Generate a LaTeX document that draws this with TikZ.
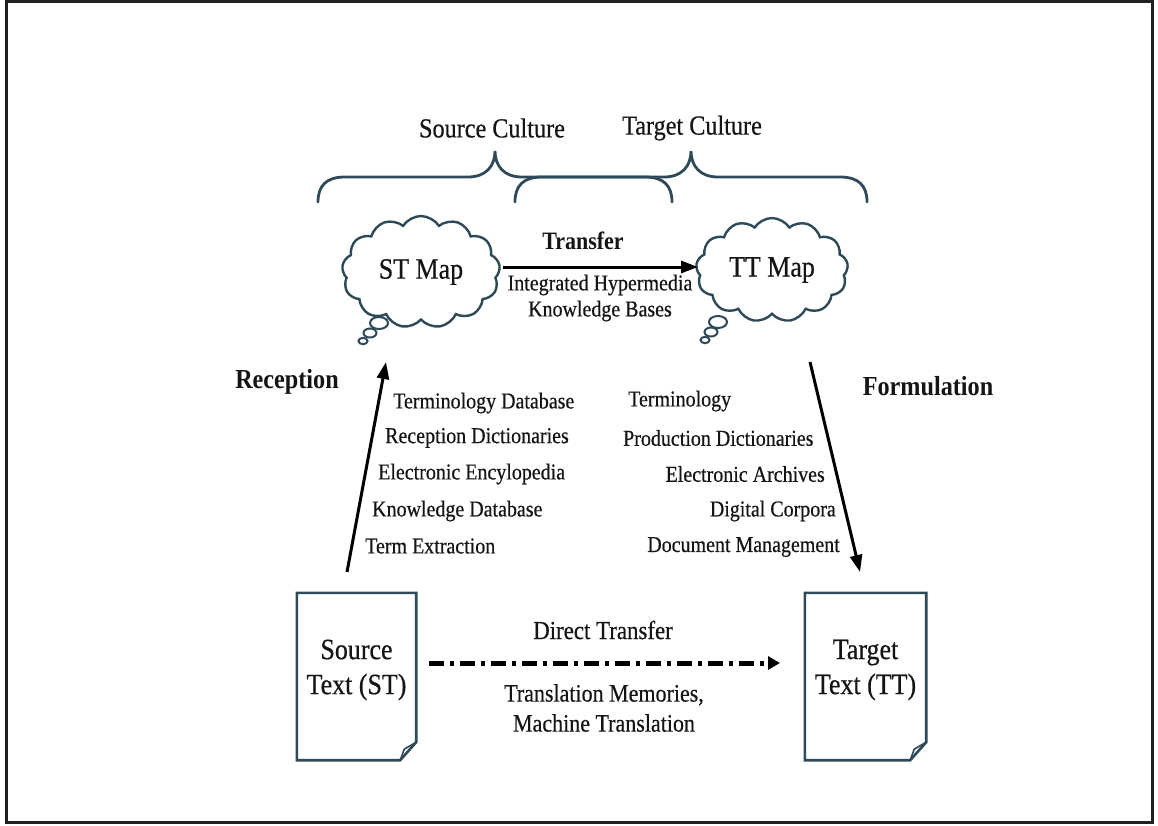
\documentclass[tikz,border=0pt]{standalone}
\usepackage{fontspec}
\setmainfont{Liberation Serif}[FakeStretch=0.88, UprightFeatures={FakeBold=0.5}]
\usetikzlibrary{shapes.symbols,arrows.meta}
\definecolor{ink}{HTML}{2E4A58}
\definecolor{txt}{HTML}{151515}
\begin{document}
\begin{tikzpicture}[x=1pt,y=-1pt,
  lbl/.style={font=\fontsize{22.7}{24}\selectfont, inner sep=0pt, text=txt},
  big/.style={font=\fontsize{27.5}{29}\selectfont, inner sep=0pt, text=txt},
  bold/.style={font=\fontsize{27.5}{29}\selectfont\bfseries, inner sep=0pt, text=txt},
  thought/.style={cloud, cloud puffs=13, cloud puff arc=115, cloud ignores aspect,
    draw=ink, line width=2.4pt, fill=white, text=txt, font=\fontsize{29.5}{31}\selectfont},
  bubble/.style={draw=ink, line width=2pt, fill=white},
  brace/.style={draw=ink, line width=2.8pt, line cap=round},
  doc/.style={draw=ink, line width=2.6pt, line join=miter},
  doctext/.style={align=center, font=\fontsize{29.5}{35}\selectfont, text=txt, inner sep=0pt},
  arr/.style={line width=3pt, -{Triangle[length=17pt,width=12pt]}},
]
\useasboundingbox (0,0) rectangle (1158,825);
\draw[line width=3pt, black!88] (6.5,1.5) rectangle (1152,822.5);

% culture labels and braces
\node[big] (sc) at (492,128) {Source Culture};
\node[big] (tc) at (692,128) {Target Culture};
\draw[brace] (318,202) .. controls (318,186) and (326,177) .. (345,177) -- (468,177)
  .. controls (486,177) and (495,166) .. (495,151)
  .. controls (495,166) and (504,177) .. (522,177) -- (645,177)
  .. controls (664,177) and (672,186) .. (672,202);
\draw[brace] (515,202) .. controls (515,186) and (523,177) .. (542,177) -- (664,177)
  .. controls (682,177) and (691,166) .. (691,151)
  .. controls (691,166) and (700,177) .. (718,177) -- (840,177)
  .. controls (859,177) and (867,186) .. (867,202);

% thought clouds
\draw[bubble] (379,323) ellipse [x radius=9, y radius=6];
\draw[bubble] (370,333) ellipse [x radius=6.5, y radius=4.5];
\draw[bubble] (363,341) ellipse [x radius=4.5, y radius=3.2];
\node[thought, minimum width=158pt, minimum height=112pt] (stmap) at (421,272) {ST Map};
\draw[bubble] (718,322) ellipse [x radius=9, y radius=6];
\draw[bubble] (711,332) ellipse [x radius=6.5, y radius=4.5];
\draw[bubble] (705,340) ellipse [x radius=4.5, y radius=3.2];
\node[thought, minimum width=152pt, minimum height=104pt] (ttmap) at (772,270) {TT Map};

% transfer
\coordinate (trS) at (503,267);
\coordinate (trE) at (698,267);
\draw[arr] (trS) -- (trE);
\node[font=\fontsize{25}{27}\selectfont\bfseries, inner sep=0pt, text=txt] (transfer) at (583,241) {Transfer};
\node[align=center, font=\fontsize{22.7}{26}\selectfont, inner sep=0pt, text=txt] (ihkb) at (600,298) {Integrated Hypermedia\\Knowledge Bases};

% reception side
\node[bold] (reception) at (287,382) {Reception};
\coordinate (recS) at (347,572);
\coordinate (recE) at (386,362);
\draw[arr] (recS) -- (recE);
\node[lbl, anchor=west] (r1) at (393,403) {Terminology Database};
\node[lbl, anchor=west] (r2) at (385,438) {Reception Dictionaries};
\node[lbl, anchor=west] (r3) at (378,474) {Electronic Encylopedia};
\node[lbl, anchor=west] (r4) at (372,511) {Knowledge Database};
\node[lbl, anchor=west] (r5) at (365,546) {Term Extraction};

% formulation side
\node[bold] (formulation) at (928,386) {Formulation};
\coordinate (forS) at (810,362);
\coordinate (forE) at (860,572);
\draw[arr] (forS) -- (forE);
\node[lbl, anchor=west] (f1) at (628,401) {Terminology};
\node[lbl, anchor=west] (f2) at (623,438) {Production Dictionaries};
\node[lbl, anchor=east] (f3) at (825,474) {Electronic Archives};
\node[lbl, anchor=east] (f4) at (836,511) {Digital Corpora};
\node[lbl, anchor=east] (f5) at (840,547) {Document Management};

% documents
\node[minimum width=119pt, minimum height=167pt, inner sep=0pt] (srcdoc) at (356.5,676.5) {};
\node[minimum width=121pt, minimum height=167pt, inner sep=0pt] (tgtdoc) at (865.5,676.5) {};
\foreach \d in {srcdoc,tgtdoc}{
  \draw[doc] (\d.north west) -- (\d.north east) -- ([yshift=18pt]\d.south east)
    -- ([xshift=-16pt]\d.south east) -- (\d.south west) -- cycle;
  \draw[ink, line width=1.6pt] ([xshift=-16pt]\d.south east) -- ([xshift=-12pt,yshift=11pt]\d.south east) -- ([yshift=18pt]\d.south east);
}
\node[doctext] (srctxt) at (356.5,670) {Source\\Text (ST)};
\node[doctext] (tgttxt) at (865.5,670) {Target\\Text (TT)};

% direct transfer
\coordinate (dtS) at (429,663);
\coordinate (dtE) at (780,663);
\draw[line width=5pt, dash pattern=on 15pt off 6pt on 4pt off 6pt,
  -{Triangle[length=12pt,width=13pt]}] (dtS) -- (dtE);
\node[font=\fontsize{26}{28}\selectfont, inner sep=0pt, text=txt] (direct) at (603,630) {Direct Transfer};
\node[align=center, font=\fontsize{25}{30}\selectfont, inner sep=0pt, text=txt] (tm) at (604,708) {Translation Memories,\\Machine Translation};
\end{tikzpicture}
\end{document}
